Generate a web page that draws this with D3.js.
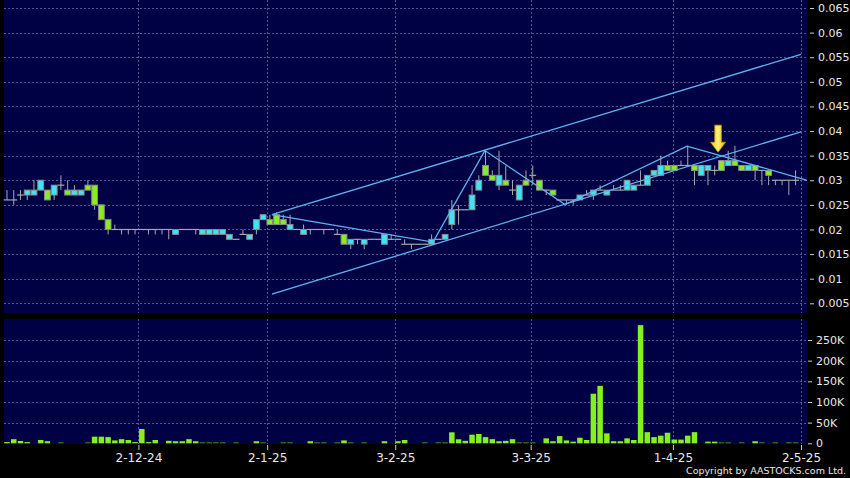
<!DOCTYPE html>
<html><head><meta charset="utf-8">
<script src="https://cdn.jsdelivr.net/npm/d3@7"></script>
<style>html,body{margin:0;padding:0;background:#000;}svg{display:block;}</style>
</head><body>
<svg id="chart" width="850" height="478"></svg>
<script>
// ---------- data ----------
const opens  = [.026,.026,.027,.027,.027,.028,.028,.027,.029,.028,.027,.027,.029,.029,.025,.022,.020,.020,.020,.020,
                .020,.020,.020,.020,.020,.019,.020,.020,.020,.019,.019,.019,.019,.018,.018,.019,.018,.020,.022,.022,
                .023,.022,.020,.020,.019,.020,.020,.020,.020,.019,.019,.017,.018,.017,.018,.018,.017,.018,.018,.017,
                .017,.017,.017,.017,.018,.018,.021,.024,.024,.024,.028,.033,.031,.029,.030,.028,.026,.030,.031,.030,
                .028,.028,.026,.026,.026,.026,.027,.027,.028,.027,.028,.028,.028,.028,.029,.029,.031,.031,.033,.033,
                .033,.033,.033,.031,.032,.032,.034,.033,.034,.033,.032,.033,.032,.032,.030,.030,.030,.030];
const highs  = [.028,.028,.028,.028,.030,.030,.028,.029,.031,.030,.029,.028,.030,.029,.025,.022,.021,.020,.020,.020,
                .020,.020,.020,.020,.020,.020,.020,.020,.020,.020,.020,.020,.020,.019,.018,.020,.019,.022,.023,.023,
                .0235,.023,.023,.020,.021,.020,.020,.020,.020,.020,.019,.018,.018,.018,.018,.018,.019,.019,.018,.018,
                .017,.017,.017,.019,.018,.019,.026,.025,.024,.029,.031,.036,.032,.036,.033,.030,.029,.032,.033,.030,
                .028,.028,.026,.026,.026,.027,.028,.028,.029,.028,.029,.029,.030,.029,.032,.031,.032,.035,.034,.033,
                .034,.037,.033,.033,.033,.033,.034,.036,.037,.033,.033,.033,.032,.032,.030,.030,.030,.032];
const lows   = [.026,.025,.026,.026,.027,.028,.026,.026,.028,.027,.027,.027,.028,.024,.022,.019,.020,.019,.019,.019,
                .020,.019,.019,.019,.018,.019,.020,.020,.019,.019,.019,.019,.019,.018,.018,.019,.018,.019,.022,.021,
                .021,.021,.020,.020,.019,.019,.020,.019,.020,.019,.017,.016,.017,.016,.018,.018,.017,.018,.018,.017,
                .016,.017,.017,.017,.018,.018,.020,.021,.024,.024,.028,.031,.030,.028,.029,.027,.026,.029,.029,.028,
                .027,.027,.026,.025,.025,.026,.027,.026,.028,.027,.028,.028,.028,.028,.029,.029,.031,.031,.032,.032,
                .033,.033,.029,.031,.029,.031,.032,.033,.033,.032,.032,.030,.029,.029,.029,.029,.027,.029];
const closes = [.026,.026,.027,.028,.028,.030,.026,.029,.029,.027,.028,.028,.028,.025,.022,.020,.020,.020,.020,.020,
                .020,.020,.020,.020,.020,.020,.020,.020,.020,.020,.020,.020,.020,.019,.018,.019,.019,.022,.023,.021,
                .021,.021,.021,.020,.020,.020,.020,.020,.020,.019,.017,.018,.018,.018,.018,.018,.019,.018,.018,.017,
                .017,.017,.017,.018,.018,.019,.024,.024,.024,.027,.030,.031,.030,.031,.029,.028,.029,.029,.031,.028,
                .028,.027,.026,.026,.026,.027,.027,.028,.028,.028,.028,.028,.030,.029,.029,.031,.032,.033,.032,.032,
                .033,.033,.032,.033,.033,.032,.032,.034,.033,.032,.033,.032,.032,.031,.030,.030,.030,.030];
const volumesK = [3,10,5.6,3,0,8,5,0,2,0,0,0,1.5,16,16,15,7,10,8,3,
                  34.6,3,8,0,6,5,5,10,5,2,2,1,1,0,1,0,0,5,1,0,
                  0,1,1,0,0,5,2,2,0,2,7,1,0,1,0,0,5,0,5,8,
                  0,0,1,0,1,2,26.6,9.7,6,20.8,22.5,15,10,5,6,10,1,2,1,0,
                  12,5,17.5,7,4,13.5,8,120,139,24,5,5,12,8,286,27,15,18.5,25.6,9,
                  9,18.5,27,0,4,4,2,2,0,2,0,5,2,0,2,0,2,1];
const priceTicks = [0.005,0.01,0.015,0.02,0.025,0.03,0.035,0.04,0.045,0.05,0.055,0.06,0.065];
const volumeTicks = [0,50000,100000,150000,200000,250000];
const dateLabels = ["2-12-24","2-1-25","3-2-25","3-3-25","1-4-25","2-5-25"];
const dateTickIdx = [19.5,38.6,57.6,77.7,98.8,117.8];
// analyst drawings: [index, price]
const channelUpper = [[39.3,0.0230],[117.8,0.0556]];
const channelLower = [[39.3,0.00686],[117.8,0.03985]];
const zigzag = [[39.3,0.0230],[63.2,0.01743],[70.9,0.03603],[82.8,0.02505],[100.9,0.03694],[118.7,0.0300]];
const arrowMark = {idx:105.5, top:0.0412, tip:0.0357};

// ---------- drawing ----------
const svg = d3.select("#chart");
const navy = "#000044", gridC = "#54549a", txtC = "#e8e8e8";
const pricePanel = {x0:4, x1:807, y0:0, y1:313};
const volPanel = {x0:4, x1:807, y0:319, y1:444};

const x = d3.scaleLinear().domain([0,117]).range([7, 7+117*6.74]);
const y = d3.scaleLinear().domain([0.005,0.065]).range([303.3,8]);
const yv = d3.scaleLinear().domain([0,250000]).range([443.3,340]);

svg.append("rect").attr("width",850).attr("height",478).attr("fill","#000");
[pricePanel,volPanel].forEach(p=>svg.append("rect").attr("x",p.x0).attr("y",p.y0)
  .attr("width",p.x1-p.x0).attr("height",p.y1-p.y0).attr("fill",navy));

// grids
const g = svg.append("g").attr("stroke",gridC).attr("stroke-width",1).attr("stroke-dasharray","2,2");
priceTicks.forEach(t=>g.append("line").attr("x1",pricePanel.x0).attr("x2",pricePanel.x1)
  .attr("y1",Math.round(y(t))+0.5).attr("y2",Math.round(y(t))+0.5));
volumeTicks.slice(1).forEach(t=>g.append("line").attr("x1",volPanel.x0).attr("x2",volPanel.x1)
  .attr("y1",Math.round(yv(t))+0.5).attr("y2",Math.round(yv(t))+0.5));
dateTickIdx.forEach(t=>{
  const xx = Math.round(x(t))+0.5;
  g.append("line").attr("x1",xx).attr("x2",xx).attr("y1",pricePanel.y0).attr("y2",pricePanel.y1);
  g.append("line").attr("x1",xx).attr("x2",xx).attr("y1",volPanel.y0).attr("y2",volPanel.y1);
});

// right axes
const pAxis = d3.axisRight(y).tickValues(priceTicks).tickSize(4).tickPadding(4).tickFormat(d=>String(+d.toFixed(3)));
const pa = svg.append("g").attr("transform","translate(810,0)").call(pAxis);
const vAxis = d3.axisRight(yv).tickValues(volumeTicks).tickSize(4).tickPadding(4).tickFormat(d=>d===0?"0":(d/1000)+"K");
const va = svg.append("g").attr("transform","translate(808,0)").call(vAxis);
[pa,va].forEach(a=>{
  a.select(".domain").remove();
  a.selectAll(".tick line").attr("stroke","#cccccc");
  a.selectAll(".tick text").attr("fill",txtC).attr("font-family","DejaVu Sans").attr("font-size","11px");
});

// bottom axis
const bx = d3.scaleLinear().domain(x.domain()).range(x.range());
const bAxis = d3.axisBottom(bx).tickValues(dateTickIdx).tickSize(5).tickPadding(3)
  .tickFormat((d,i)=>dateLabels[i]);
const ba = svg.append("g").attr("transform","translate(0,445)").call(bAxis);
ba.select(".domain").remove();
ba.selectAll(".tick line").attr("stroke","#cccccc");
ba.selectAll(".tick text").attr("fill",txtC).attr("font-family","DejaVu Sans").attr("font-size","12px");

// volume bars
const vb = svg.append("g");
volumesK.forEach((v,i)=>{
  if(v<=0) return;
  const top = yv(v*1000), h = Math.max(1, yv(0)-top);
  vb.append("rect").attr("x",x(i)-2.75).attr("y",yv(0)-h).attr("width",5.5).attr("height",h)
    .attr("fill",v<3?"#3f8a18":"#84f01e");
});

// candles
const cg = svg.append("g");
opens.forEach((o,i)=>{
  const c = closes[i], hi = highs[i], lo = lows[i], cx = x(i);
  if(hi>lo) cg.append("line").attr("x1",cx).attr("x2",cx).attr("y1",y(hi)).attr("y2",y(lo))
    .attr("stroke","#a8a8a8").attr("stroke-width",1);
  if(o===c){
    cg.append("line").attr("x1",cx-3.4).attr("x2",cx+3.4).attr("y1",y(o)).attr("y2",y(o))
      .attr("stroke","#a8a8a8").attr("stroke-width",1.2);
  } else {
    const t = y(Math.max(o,c)), b = y(Math.min(o,c));
    cg.append("rect").attr("x",cx-2.9).attr("y",t).attr("width",5.8).attr("height",b-t)
      .attr("fill",c>o?"#3de4f4":"#86ee1e").attr("stroke","#8c8c8c").attr("stroke-width",1);
  }
});

// trend lines
const line = d3.line().x(d=>x(d[0])).y(d=>y(d[1]));
[channelUpper,channelLower,zigzag].forEach(d=>svg.append("path").attr("d",line(d))
  .attr("fill","none").attr("stroke","#5fb4f0").attr("stroke-width",1.3));

// arrow
const ax = x(arrowMark.idx), at = y(arrowMark.top), ap = y(arrowMark.tip);
const grad = svg.append("defs").append("linearGradient").attr("id","ag").attr("x1","0").attr("x2","1");
grad.append("stop").attr("offset","0").attr("stop-color","#ffd21a");
grad.append("stop").attr("offset","0.5").attr("stop-color","#fff07a");
grad.append("stop").attr("offset","1").attr("stop-color","#e8b000");
const hh = 10;
svg.append("path").attr("d",`M${ax-3.3},${at} L${ax+3.3},${at} L${ax+3.3},${ap-hh} L${ax+7.5},${ap-hh} L${ax},${ap} L${ax-7.5},${ap-hh} L${ax-3.3},${ap-hh} Z`)
  .attr("fill","url(#ag)").attr("stroke","#c89000").attr("stroke-width",0.8);

// copyright
svg.append("text").attr("x",846).attr("y",473.5).attr("text-anchor","end").attr("fill",txtC)
  .attr("font-family","DejaVu Sans").attr("font-size","9.5px").text("Copyright by AASTOCKS.com Ltd.");
</script>
</body></html>
